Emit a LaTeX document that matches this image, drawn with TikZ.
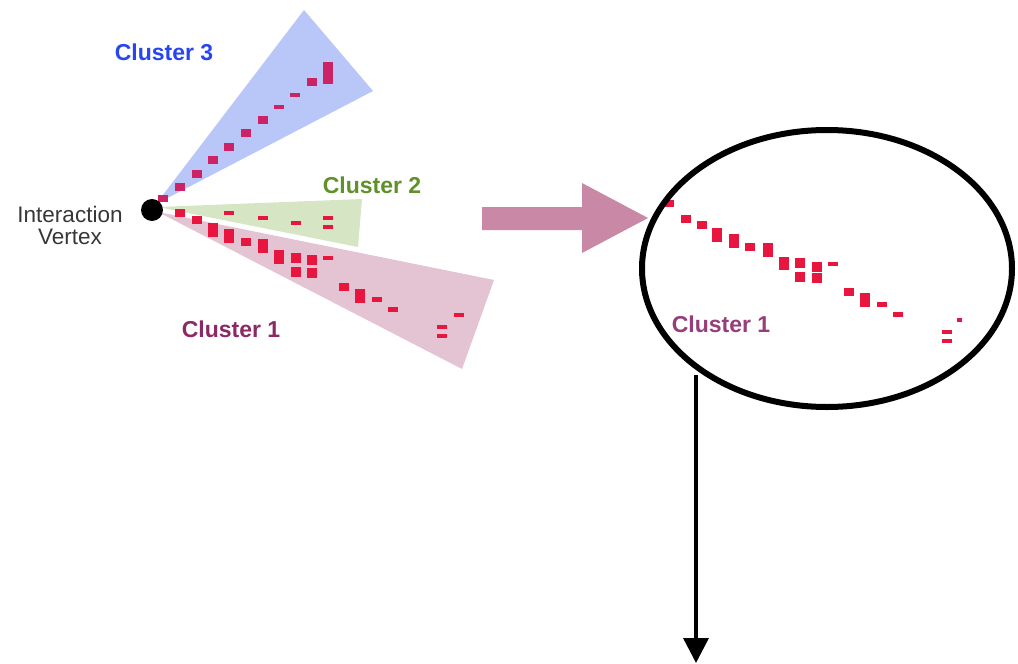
\documentclass[tikz,border=0pt]{standalone}
\usepackage{fontspec}
\setmainfont{Liberation Sans}
\usetikzlibrary{shapes.geometric,arrows.meta}

\definecolor{wedgeblue}{RGB}{184,198,248}
\definecolor{wedgegreen}{RGB}{214,230,196}
\definecolor{wedgepink}{RGB}{228,196,210}
\definecolor{hitmag}{RGB}{204,34,102}
\definecolor{hitred}{RGB}{232,22,62}
\definecolor{txtblue}{RGB}{40,70,240}
\definecolor{txtgreen}{RGB}{95,145,40}
\definecolor{txtplum}{RGB}{140,40,100}
\definecolor{txtplumsoft}{RGB}{150,62,122}
\definecolor{txtgray}{RGB}{55,55,55}
\definecolor{arrowpink}{RGB}{201,136,166}

\begin{document}
\begin{tikzpicture}[x=1pt,y=-1pt,
  clusterlabel/.style={font=\fontsize{23}{26}\selectfont\bfseries, inner sep=0pt, anchor=base},
  vertexlabel/.style={font=\fontsize{22.5}{22}\selectfont, text=txtgray, align=center, inner sep=0pt, anchor=base},
  bigarrow/.style={fill=arrowpink},
  zoomring/.style={draw=black, ellipse, line width=6pt, minimum width=370pt, minimum height=277pt, inner sep=0pt},
  downarrow/.style={draw=black, line width=3.5pt, -{Triangle[width=25pt,length=25pt]}}
]
\useasboundingbox (0,0) rectangle (1018,664);

% cones of the three clusters, all opening from the vertex
\fill[wedgeblue]  (156,204) -- (304,10)  -- (373,91)  -- cycle;
\fill[wedgegreen] (158,207) -- (362,199) -- (358,247) -- cycle;
\fill[wedgepink]  (158,212) -- (494,280) -- (462,369) -- cycle;

% detector hits: x / y / height
\foreach \x/\y/\h in {163/198/7,180/187/8,197/174/8,213/160/8,229/147/8,246/133/8,
                      263/120/8,279/107/4,295/95/4,312/82/8,328/73/22}
  \fill[hitmag] (\x-5,\y-\h/2) rectangle (\x+5,\y+\h/2);

\foreach \x/\y/\h in {229/213/4,263/218/4,296/223/4,328/218/4,328/227/4}
  \fill[hitred] (\x-5,\y-\h/2) rectangle (\x+5,\y+\h/2);

\foreach \x/\y/\h in {180/213/8,197/220/8,213/230/14,229/236/14,246/242/8,263/246/14,
                      279/257/14,296/258/10,296/272/10,312/260/10,312/273/10,328/258/4,
                      344/287/8,360/296/14,377/299/5,393/309/5,442/327/4,442/336/4,459/315/4}
  \fill[hitred] (\x-5,\y-\h/2) rectangle (\x+5,\y+\h/2);

% interaction vertex
\node[circle, fill=black, minimum size=22pt, inner sep=0pt] (vtx) at (152,210) {};
\node[vertexlabel] (vtxlabel) at (70,244) {Interaction\\Vertex};

% cluster labels
\node[clusterlabel, text=txtblue]  (c3) at (164,60)  {Cluster 3};
\node[clusterlabel, text=txtgreen] (c2) at (372,193) {Cluster 2};
\node[clusterlabel, text=txtplum]  (c1) at (231,337) {Cluster 1};

% block arrow towards the enlarged view
\fill[bigarrow] (482,207) -- (582,207) -- (582,183) -- (648,218) -- (582,253)
                -- (582,230) -- (482,230) -- cycle;

% enlarged view of cluster 1
\foreach \x/\y/\h in {669/203/7,686/219/8,702/225/8,717/235/14,734/241/14,750/247/8,
                      768/250/14,784/263/13,800/263/10,800/277/10,817/267/10,817/278/10,
                      833/264/4,849/292/8,865/300/14,882/304/5,898/314/5,947/332/4,947/341/4}
  \fill[hitred] (\x-5,\y-\h/2) rectangle (\x+5,\y+\h/2);
\fill[hitred] (957,318) rectangle (962,322);
\node[clusterlabel, text=txtplumsoft] (c1z) at (721,332) {Cluster 1};

\node[zoomring] (ring) at (827,268.5) {};

% arrow leaving the enlarged view
\coordinate (ringout) at (696,375);
\coordinate (downend) at (696,663);
\draw[downarrow] (ringout) -- (downend);
\end{tikzpicture}
\end{document}
